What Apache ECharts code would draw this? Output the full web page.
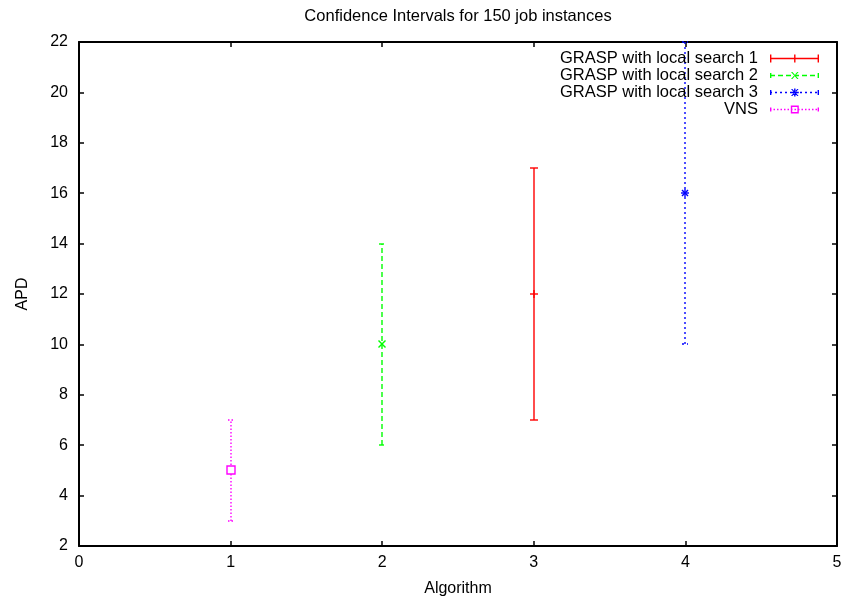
<!DOCTYPE html>
<html>
<head>
<meta charset="utf-8">
<script src="https://cdn.jsdelivr.net/npm/echarts@6/dist/echarts.min.js"></script>
<style>
  html, body { margin: 0; padding: 0; background: #fff; }
  #chart { width: 842px; height: 597px; }
</style>
</head>
<body>
<div id="chart"></div>
<script>
// ---- data ----
const titleText = 'Confidence Intervals for 150 job instances';
const seriesNames = ['GRASP with local search 1', 'GRASP with local search 2', 'GRASP with local search 3', 'VNS'];
const algorithmPos = [3, 2, 4, 1];
const apdCenter = [12, 10, 16, 5];
const apdLow = [7, 6, 10, 3];
const apdHigh = [17, 14, 22, 7];
const xMin = 0, xMax = 5, xStep = 1;
const yMin = 2, yMax = 22, yStep = 2;

// ---- styles ----
const colors = ['#ff0000', '#00ff00', '#0000ff', '#ff00ff'];
const dashes = [null, [5, 3], [2, 3], [1.5, 2]];
const markers = ['plus', 'cross', 'star', 'square'];
const capHalf = [4, 3, 3, 3];
const LW = 1.4;
const FONT = '"Liberation Sans", Arial, Helvetica, sans-serif';

function markerShapes(kind, cx, cy, color) {
  const st = { stroke: color, lineWidth: 1.4, fill: null };
  const out = [];
  const line = (x1, y1, x2, y2) => out.push({ type: 'line', shape: { x1, y1, x2, y2 }, style: st });
  if (kind === 'plus' || kind === 'star') {
    line(cx - 4, cy, cx + 4, cy);
    line(cx, cy - 4, cx, cy + 4);
  }
  if (kind === 'cross' || kind === 'star') {
    const h = kind === 'star' ? 3 : 3.5;
    line(cx - h, cy - h, cx + h, cy + h);
    line(cx - h, cy + h, cx + h, cy - h);
  }
  if (kind === 'square') {
    out.push({ type: 'rect', shape: { x: cx - 4, y: cy - 4, width: 8, height: 8 }, style: { stroke: color, lineWidth: 1.4, fill: '#fff' } });
  }
  return out;
}

function makeRenderItem(i) {
  return function (params, api) {
    const x = api.value(0), c = api.value(1), lo = api.value(2), hi = api.value(3);
    const pc = api.coord([x, c]);
    const pl = api.coord([x, lo]);
    const ph = api.coord([x, hi]);
    const px = Math.round(pc[0]);
    const yl = Math.round(pl[1]), yh = Math.round(ph[1]), yc = Math.round(pc[1]);
    const st = { stroke: colors[i], lineWidth: LW, fill: null, lineDash: dashes[i] || null };
    const ch = capHalf[i];
    const children = [
      { type: 'line', shape: { x1: px, y1: yl, x2: px, y2: yh }, style: st },
      { type: 'line', shape: { x1: px - ch, y1: yl, x2: px + ch, y2: yl }, style: st },
      { type: 'line', shape: { x1: px - ch, y1: yh, x2: px + ch, y2: yh }, style: st }
    ].concat(markerShapes(markers[i], px, yc, colors[i]));
    return { type: 'group', children };
  };
}

// legend icon paths (49 x 10 box)
function dashPath(pattern, x0, x1) {
  let s = '';
  if (!pattern) return 'M' + x0 + ' 4.3h' + (x1 - x0) + 'v1.4h-' + (x1 - x0) + 'z';
  let x = x0, k = 0;
  while (x < x1) {
    const w = Math.min(pattern[k % 2], x1 - x);
    if (k % 2 === 0) s += 'M' + x + ' 4.3h' + w + 'v1.4h-' + w + 'z';
    x += pattern[k % 2];
    k++;
  }
  return s;
}
function iconPath(i) {
  let p = 'M0 0L0 0M49 10L49 10';
  const capH = [8, 5, 5, 4][i];
  const cy0 = (10 - capH) / 2;
  p += dashPath(dashes[i], 0, 49);
  p += 'M0 ' + cy0 + 'h1.4v' + capH + 'h-1.4z';
  p += 'M47.6 ' + cy0 + 'h1.4v' + capH + 'h-1.4z';
  const kind = markers[i];
  if (kind === 'plus' || kind === 'star') {
    p += 'M24.1 1h1.4v8h-1.4z';
    p += 'M20.8 4.3h8v1.4h-8z';
  }
  if (kind === 'cross' || kind === 'star') {
    p += 'M21 1.5L22.4 1.5L28.6 8.5L27.2 8.5Z';
    p += 'M21 8.5L22.4 8.5L28.6 1.5L27.2 1.5Z';
  }
  if (kind === 'square') {
    p += 'M20.8 1h8v8h-8z';
    p += 'M22.2 2.4v5.2h5.2v-5.2z';
  }
  return 'path://' + p;
}

const series = seriesNames.map((name, i) => ({
  name: name,
  type: 'custom',
  xAxisIndex: 0,
  yAxisIndex: 0,
  renderItem: makeRenderItem(i),
  itemStyle: { color: colors[i] },
  encode: { x: 0, y: [1, 2, 3] },
  data: [[algorithmPos[i], apdCenter[i], apdLow[i], apdHigh[i]]],
  z: 3
}));

const axisCommon = {
  axisLine: { show: true, onZero: false, lineStyle: { color: '#000', width: 2 } },
  axisTick: { show: true, inside: true, length: 5, lineStyle: { color: '#000', width: 1.5 } },
  splitLine: { show: false }
};

const chart = echarts.init(document.getElementById('chart'), null, { renderer: 'canvas' });
chart.setOption({
  backgroundColor: '#fff',
  animation: false,
  textStyle: { fontFamily: FONT },
  title: {
    text: titleText,
    left: 458,
    top: 8,
    padding: 0,
    textAlign: 'center',
    textStyle: { fontSize: 16.5, fontWeight: 'normal', color: '#000', fontFamily: FONT }
  },
  legend: {
    orient: 'vertical',
    align: 'right',
    right: 23,
    top: 50,
    padding: 0,
    itemWidth: 49,
    itemHeight: 10,
    itemGap: 0,
    selectedMode: false,
    itemStyle: { borderWidth: 0 },
    textStyle: { fontSize: 16.5, color: '#000', fontFamily: FONT, lineHeight: 17, padding: [0, 7, 0, 0] },
    data: seriesNames.map((n, i) => ({ name: n, icon: iconPath(i) }))
  },
  grid: { left: 79, right: 5, top: 42, bottom: 51, containLabel: false, outerBoundsMode: 'none' },
  xAxis: [
    Object.assign({}, axisCommon, {
      type: 'value', position: 'bottom', min: xMin, max: xMax, interval: xStep,
      name: 'Algorithm', nameLocation: 'middle', nameGap: 35,
      nameTextStyle: { fontSize: 16, color: '#000', fontFamily: FONT },
      axisLabel: { fontSize: 16, color: '#000', margin: 9, fontFamily: FONT, showMaxLabel: true, showMinLabel: true }
    }),
    Object.assign({}, axisCommon, {
      type: 'value', position: 'top', min: xMin, max: xMax, interval: xStep,
      axisLabel: { show: false }
    })
  ],
  yAxis: [
    Object.assign({}, axisCommon, {
      type: 'value', position: 'left', min: yMin, max: yMax, interval: yStep,
      name: 'APD', nameLocation: 'middle', nameGap: 48,
      nameTextStyle: { fontSize: 16, color: '#000', fontFamily: FONT },
      axisLabel: { fontSize: 16, color: '#000', margin: 11, fontFamily: FONT, showMaxLabel: true, showMinLabel: true }
    }),
    Object.assign({}, axisCommon, {
      type: 'value', position: 'right', min: yMin, max: yMax, interval: yStep,
      axisLabel: { show: false }
    })
  ],
  series: series
});
</script>
</body>
</html>
